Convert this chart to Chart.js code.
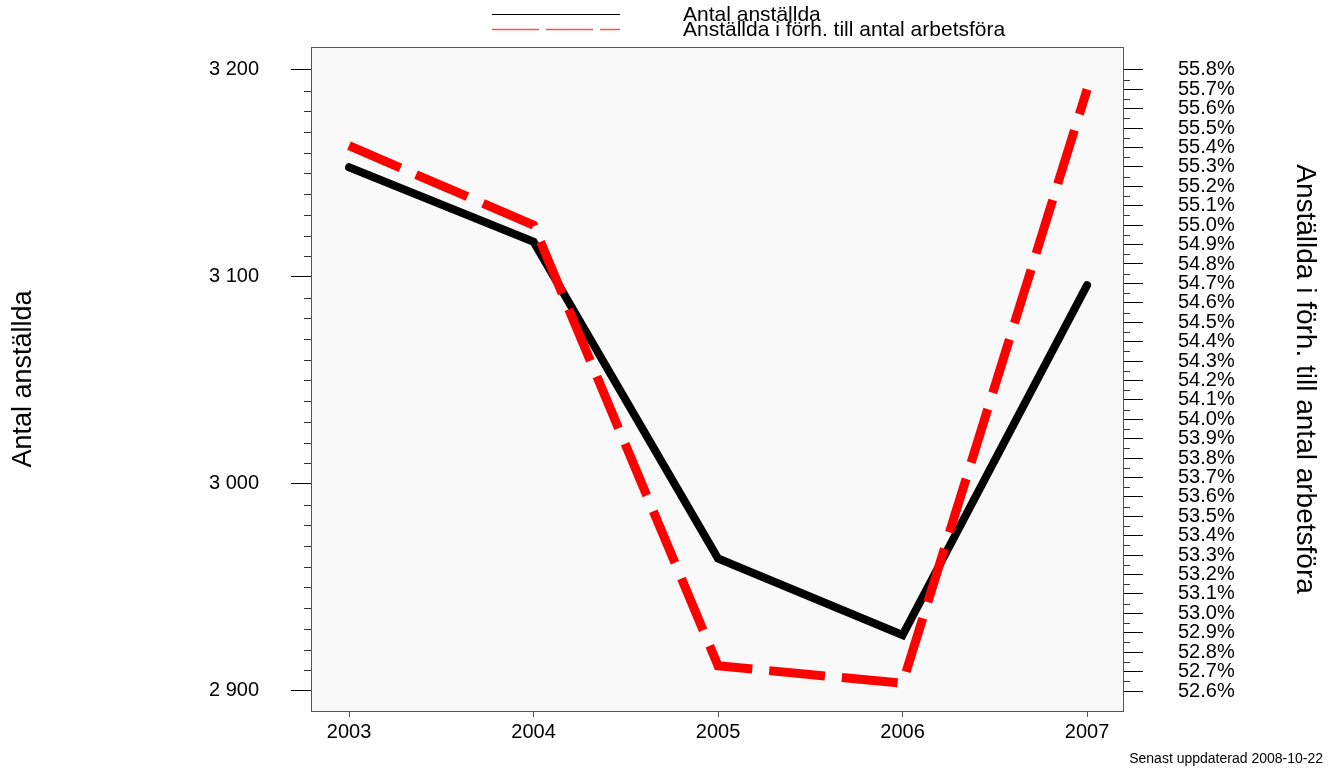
<!DOCTYPE html>
<html>
<head>
<meta charset="utf-8">
<script src="https://cdn.jsdelivr.net/npm/chart.js@4/dist/chart.umd.min.js"></script>
<style>
  html, body { margin: 0; padding: 0; background: #fff; }
  #wrap { width: 1334px; height: 768px; }
</style>
</head>
<body>
<div id="wrap"><canvas id="chart" width="1334" height="768"></canvas></div>
<script>
// data
const years = [2003, 2004, 2005, 2006, 2007];
const employed = [3153, 3117, 2964, 2927, 3096];            // Antal anställda
const employedShare = [55.41, 55.00, 52.73, 52.64, 55.70];  // % av arbetsföra

const leftTicks = [2900, 3000, 3100, 3200];
const rightTicks = [52.6, 52.7, 52.8, 52.9, 53.0, 53.1, 53.2, 53.3, 53.4, 53.5, 53.6,
  53.7, 53.8, 53.9, 54.0, 54.1, 54.2, 54.3, 54.4, 54.5, 54.6, 54.7, 54.8, 54.9, 55.0,
  55.1, 55.2, 55.3, 55.4, 55.5, 55.6, 55.7, 55.8];

const FONT = "'Liberation Sans', Arial, sans-serif";

const fmtThousands = v => Math.round(v).toString().replace(/\B(?=(\d{3})+(?!\d))/g, " ");

// plot background + frame
const frame = {
  id: "frame",
  beforeDraw(chart) {
    const { ctx, chartArea: a } = chart;
    ctx.save();
    ctx.fillStyle = "#fff";
    ctx.fillRect(0, 0, chart.width, chart.height);
    ctx.fillStyle = "#f9f9f9";
    ctx.fillRect(a.left, a.top, a.right - a.left, a.bottom - a.top);
    ctx.restore();
  },
  afterDraw(chart) {
    const { ctx, chartArea: a, scales } = chart;
    ctx.save();
    ctx.strokeStyle = "#555";
    ctx.lineWidth = 1;
    ctx.strokeRect(a.left + 0.5, a.top + 0.5, a.right - a.left - 1, a.bottom - a.top);

    // minor ticks
    ctx.strokeStyle = "#333";
    ctx.beginPath();
    for (let v = 2910; v < 3200; v += 10) {
      if (v % 100 === 0) continue;
      const y = Math.round(scales.y.getPixelForValue(v)) + 0.5;
      ctx.moveTo(a.left - 7, y);
      ctx.lineTo(a.left, y);
    }
    for (let i = 0; i < rightTicks.length - 1; i++) {
      const v = (rightTicks[i] + rightTicks[i + 1]) / 2;
      const y = Math.round(scales.y1.getPixelForValue(v)) + 0.5;
      ctx.moveTo(a.right, y);
      ctx.lineTo(a.right + 6, y);
    }
    ctx.stroke();

    // legend
    const ds = chart.data.datasets;
    ctx.lineWidth = 1;
    ctx.strokeStyle = "#000";
    ctx.beginPath();
    ctx.moveTo(492, 14.5);
    ctx.lineTo(620, 14.5);
    ctx.stroke();
    ctx.strokeStyle = "#ff4d4d";
    ctx.lineWidth = 1.5;
    ctx.setLineDash([47, 7]);
    ctx.beginPath();
    ctx.moveTo(492, 29.5);
    ctx.lineTo(620, 29.5);
    ctx.stroke();
    ctx.setLineDash([]);
    ctx.fillStyle = "#000";
    ctx.font = "21px " + FONT;
    ctx.textAlign = "left";
    ctx.textBaseline = "middle";
    ctx.fillText(ds[1].label, 683, 15);
    ctx.fillText(ds[0].label, 683, 30);

    // footer
    ctx.font = "14px " + FONT;
    ctx.textAlign = "right";
    ctx.fillText("Senast uppdaterad 2008-10-22", 1323, 759);
    ctx.restore();
  }
};

new Chart(document.getElementById("chart"), {
  type: "line",
  data: {
    datasets: [
      {
        label: "Anställda i förh. till antal arbetsföra",
        data: years.map((yr, i) => ({ x: yr, y: employedShare[i] })),
        yAxisID: "y1",
        borderColor: "#ff0000",
        borderWidth: 9,
        borderDash: [56, 17],
        borderCapStyle: "butt",
        borderJoinStyle: "miter",
        pointRadius: 0,
        tension: 0,
        order: 1
      },
      {
        label: "Antal anställda",
        data: years.map((yr, i) => ({ x: yr, y: employed[i] })),
        yAxisID: "y",
        borderColor: "#000",
        borderWidth: 8,
        borderCapStyle: "round",
        borderJoinStyle: "miter",
        pointRadius: 0,
        tension: 0,
        order: 2
      }
    ]
  },
  options: {
    responsive: false,
    animation: false,
    devicePixelRatio: 1,
    layout: { padding: { top: 47, left: 0, right: 0, bottom: 0 } },
    plugins: { legend: { display: false }, tooltip: { enabled: false } },
    scales: {
      x: {
        type: "linear",
        min: 2002.794,
        max: 2007.2,
        afterBuildTicks: s => { s.ticks = years.map(v => ({ value: v })); },
        afterFit: s => { s.height = 57; s.paddingLeft = 0; s.paddingRight = 0; },
        grid: { display: true, drawOnChartArea: false, tickLength: 6, color: "#555" },
        border: { display: false },
        ticks: { padding: 3, color: "#000", font: { family: FONT, size: 20 }, callback: v => String(v) }
      },
      y: {
        position: "left",
        min: 2890.3,
        max: 3211.1,
        afterBuildTicks: s => { s.ticks = leftTicks.map(v => ({ value: v })); },
        afterFit: s => { s.width = 311; s.paddingTop = 0; s.paddingBottom = 0; },
        grid: { display: true, drawOnChartArea: false, tickLength: 20, color: "#000" },
        border: { display: false },
        ticks: { padding: 32, autoSkip: false, color: "#000", font: { family: FONT, size: 20 }, callback: fmtThousands },
        title: { display: true, text: "Antal anställda", color: "#000", padding: { top: 7 }, font: { family: FONT, size: 27 } }
      },
      y1: {
        position: "right",
        min: 52.497,
        max: 55.918,
        afterBuildTicks: s => { s.ticks = rightTicks.map(v => ({ value: v })); },
        afterFit: s => { s.width = 210; s.paddingTop = 0; s.paddingBottom = 0; },
        grid: { display: true, drawOnChartArea: false, tickLength: 19, color: "#000" },
        border: { display: false },
        ticks: { padding: 35, autoSkip: false, color: "#000", font: { family: FONT, size: 20, lineHeight: 1 }, callback: v => v.toFixed(1) + "%" },
        title: { display: true, text: "Anställda i förh. till antal arbetsföra", color: "#000", padding: { top: 12 }, font: { family: FONT, size: 28 } }
      }
    }
  },
  plugins: [frame]
});
</script>
</body>
</html>
